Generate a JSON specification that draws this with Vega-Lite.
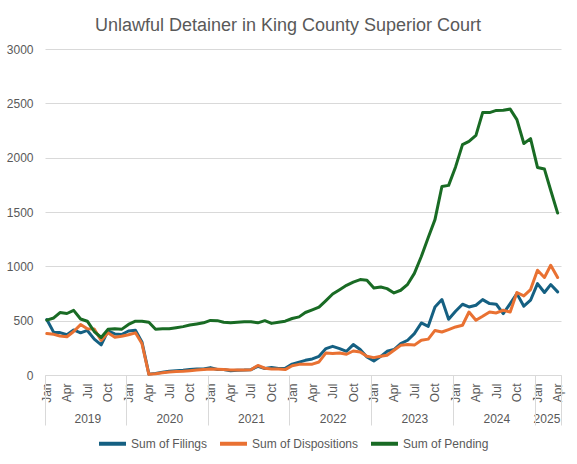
{
  "$schema": "https://vega.github.io/schema/vega-lite/v6.json",
  "description": "Unlawful detainer filings, dispositions and pending cases by month",
  "width": 516,
  "height": 326,
  "autosize": {"type": "none"},
  "padding": {"left": 45, "top": 49, "right": 16, "bottom": 89},
  "background": "white",
  "title": {
    "text": "Unlawful Detainer in King County Superior Court",
    "anchor": "middle",
    "frame": "group",
    "dx": -15,
    "offset": 8,
    "fontSize": 18,
    "fontWeight": "normal",
    "color": "#595959"
  },
  "data": {
    "values": [
      {"month": "2019-01-01", "Filings": 510, "Dispositions": 381, "Pending": 505},
      {"month": "2019-02-01", "Filings": 392, "Dispositions": 374, "Pending": 525},
      {"month": "2019-03-01", "Filings": 390, "Dispositions": 359, "Pending": 575},
      {"month": "2019-04-01", "Filings": 370, "Dispositions": 352, "Pending": 566},
      {"month": "2019-05-01", "Filings": 415, "Dispositions": 400, "Pending": 595},
      {"month": "2019-06-01", "Filings": 388, "Dispositions": 464, "Pending": 515},
      {"month": "2019-07-01", "Filings": 410, "Dispositions": 425, "Pending": 495},
      {"month": "2019-08-01", "Filings": 330, "Dispositions": 424, "Pending": 400},
      {"month": "2019-09-01", "Filings": 278, "Dispositions": 318, "Pending": 345},
      {"month": "2019-10-01", "Filings": 405, "Dispositions": 389, "Pending": 420},
      {"month": "2019-11-01", "Filings": 378, "Dispositions": 348, "Pending": 425},
      {"month": "2019-12-01", "Filings": 372, "Dispositions": 357, "Pending": 420},
      {"month": "2020-01-01", "Filings": 405, "Dispositions": 370, "Pending": 465},
      {"month": "2020-02-01", "Filings": 412, "Dispositions": 388, "Pending": 495},
      {"month": "2020-03-01", "Filings": 305, "Dispositions": 290, "Pending": 495},
      {"month": "2020-04-01", "Filings": 8, "Dispositions": 6, "Pending": 485},
      {"month": "2020-05-01", "Filings": 15, "Dispositions": 12, "Pending": 421},
      {"month": "2020-06-01", "Filings": 25, "Dispositions": 20, "Pending": 425},
      {"month": "2020-07-01", "Filings": 35, "Dispositions": 28, "Pending": 425},
      {"month": "2020-08-01", "Filings": 40, "Dispositions": 32, "Pending": 435},
      {"month": "2020-09-01", "Filings": 43, "Dispositions": 35, "Pending": 445},
      {"month": "2020-10-01", "Filings": 50, "Dispositions": 40, "Pending": 460},
      {"month": "2020-11-01", "Filings": 55, "Dispositions": 45, "Pending": 470},
      {"month": "2020-12-01", "Filings": 55, "Dispositions": 50, "Pending": 480},
      {"month": "2021-01-01", "Filings": 68, "Dispositions": 55, "Pending": 502},
      {"month": "2021-02-01", "Filings": 50, "Dispositions": 52, "Pending": 500},
      {"month": "2021-03-01", "Filings": 50, "Dispositions": 50, "Pending": 485},
      {"month": "2021-04-01", "Filings": 40, "Dispositions": 45, "Pending": 480},
      {"month": "2021-05-01", "Filings": 43, "Dispositions": 45, "Pending": 485},
      {"month": "2021-06-01", "Filings": 45, "Dispositions": 47, "Pending": 490},
      {"month": "2021-07-01", "Filings": 49, "Dispositions": 49, "Pending": 490},
      {"month": "2021-08-01", "Filings": 80, "Dispositions": 88, "Pending": 480},
      {"month": "2021-09-01", "Filings": 60, "Dispositions": 62, "Pending": 500},
      {"month": "2021-10-01", "Filings": 68, "Dispositions": 55, "Pending": 475},
      {"month": "2021-11-01", "Filings": 60, "Dispositions": 55, "Pending": 485},
      {"month": "2021-12-01", "Filings": 62, "Dispositions": 50, "Pending": 495},
      {"month": "2022-01-01", "Filings": 100, "Dispositions": 85, "Pending": 520},
      {"month": "2022-02-01", "Filings": 118, "Dispositions": 98, "Pending": 535},
      {"month": "2022-03-01", "Filings": 135, "Dispositions": 100, "Pending": 575},
      {"month": "2022-04-01", "Filings": 148, "Dispositions": 100, "Pending": 600},
      {"month": "2022-05-01", "Filings": 172, "Dispositions": 120, "Pending": 625},
      {"month": "2022-06-01", "Filings": 243, "Dispositions": 203, "Pending": 685},
      {"month": "2022-07-01", "Filings": 264, "Dispositions": 197, "Pending": 745},
      {"month": "2022-08-01", "Filings": 243, "Dispositions": 203, "Pending": 785},
      {"month": "2022-09-01", "Filings": 218, "Dispositions": 191, "Pending": 825},
      {"month": "2022-10-01", "Filings": 280, "Dispositions": 221, "Pending": 855},
      {"month": "2022-11-01", "Filings": 234, "Dispositions": 212, "Pending": 878},
      {"month": "2022-12-01", "Filings": 166, "Dispositions": 172, "Pending": 872},
      {"month": "2023-01-01", "Filings": 129, "Dispositions": 160, "Pending": 800},
      {"month": "2023-02-01", "Filings": 172, "Dispositions": 172, "Pending": 810},
      {"month": "2023-03-01", "Filings": 218, "Dispositions": 181, "Pending": 795},
      {"month": "2023-04-01", "Filings": 234, "Dispositions": 227, "Pending": 755},
      {"month": "2023-05-01", "Filings": 289, "Dispositions": 273, "Pending": 780},
      {"month": "2023-06-01", "Filings": 320, "Dispositions": 280, "Pending": 835},
      {"month": "2023-07-01", "Filings": 381, "Dispositions": 275, "Pending": 935},
      {"month": "2023-08-01", "Filings": 479, "Dispositions": 320, "Pending": 1090},
      {"month": "2023-09-01", "Filings": 448, "Dispositions": 330, "Pending": 1265},
      {"month": "2023-10-01", "Filings": 626, "Dispositions": 410, "Pending": 1430},
      {"month": "2023-11-01", "Filings": 694, "Dispositions": 396, "Pending": 1735},
      {"month": "2023-12-01", "Filings": 513, "Dispositions": 418, "Pending": 1745},
      {"month": "2024-01-01", "Filings": 587, "Dispositions": 442, "Pending": 1915},
      {"month": "2024-02-01", "Filings": 651, "Dispositions": 458, "Pending": 2120},
      {"month": "2024-03-01", "Filings": 626, "Dispositions": 580, "Pending": 2150},
      {"month": "2024-04-01", "Filings": 642, "Dispositions": 504, "Pending": 2205},
      {"month": "2024-05-01", "Filings": 694, "Dispositions": 540, "Pending": 2415},
      {"month": "2024-06-01", "Filings": 657, "Dispositions": 580, "Pending": 2415},
      {"month": "2024-07-01", "Filings": 651, "Dispositions": 571, "Pending": 2435},
      {"month": "2024-08-01", "Filings": 565, "Dispositions": 596, "Pending": 2437},
      {"month": "2024-09-01", "Filings": 657, "Dispositions": 580, "Pending": 2447},
      {"month": "2024-10-01", "Filings": 749, "Dispositions": 759, "Pending": 2350},
      {"month": "2024-11-01", "Filings": 633, "Dispositions": 728, "Pending": 2130},
      {"month": "2024-12-01", "Filings": 688, "Dispositions": 786, "Pending": 2175},
      {"month": "2025-01-01", "Filings": 841, "Dispositions": 964, "Pending": 1910},
      {"month": "2025-02-01", "Filings": 759, "Dispositions": 897, "Pending": 1895},
      {"month": "2025-03-01", "Filings": 832, "Dispositions": 1010, "Pending": 1700},
      {"month": "2025-04-01", "Filings": 765, "Dispositions": 897, "Pending": 1490}
    ]
  },
  "transform": [
    {"fold": ["Filings", "Dispositions", "Pending"], "as": ["series", "count"]}
  ],
  "layer": [
    {
      "mark": {"type": "line", "strokeWidth": 3, "strokeJoin": "round", "strokeCap": "round"},
      "encoding": {
        "x": {
          "field": "month",
          "type": "temporal",
          "scale": {
            "type": "utc",
            "domain": [
              {"year": 2018, "month": 12, "date": 24, "utc": true},
              {"year": 2025, "month": 4, "date": 16, "utc": true}
            ]
          },
          "axis": {
            "orient": "bottom",
            "title": null,
            "tickCount": {"interval": "month", "step": 3},
            "labelExpr": "utcFormat(datum.value, '%b')",
            "labelAngle": 270,
            "labelPadding": 8,
            "ticks": false,
            "domain": true,
            "domainColor": "#d9d9d9",
            "labelOverlap": false,
            "labelFlush": false,
            "grid": false
          }
        },
        "y": {
          "field": "count",
          "type": "quantitative",
          "scale": {"domain": [0, 3000]},
          "axis": {
            "title": null,
            "values": [0, 500, 1000, 1500, 2000, 2500, 3000],
            "format": "d",
            "grid": true,
            "gridColor": "#d9d9d9",
            "domain": false,
            "ticks": false,
            "labelPadding": 12
          }
        },
        "color": {
          "field": "series",
          "type": "nominal",
          "sort": ["Filings", "Dispositions", "Pending"],
          "scale": {
            "domain": ["Filings", "Dispositions", "Pending"],
            "range": ["#156082", "#E97132", "#196B24"]
          },
          "legend": {
            "title": null,
            "orient": "none",
            "legendX": 52,
            "legendY": 379,
            "direction": "horizontal",
            "symbolType": "stroke",
            "symbolSize": 729,
            "symbolStrokeWidth": 4,
            "labelOffset": 3,
            "columnPadding": 4,
            "padding": 0,
            "labelExpr": "'Sum of ' + datum.label"
          }
        }
      }
    },
    {
      "mark": {"type": "rule", "opacity": 0},
      "encoding": {
        "x": {
          "field": "month",
          "type": "temporal",
          "axis": {
            "orient": "bottom",
            "title": null,
            "values": [
              {"year": 2019, "month": 7, "date": 1, "utc": true},
              {"year": 2020, "month": 7, "date": 1, "utc": true},
              {"year": 2021, "month": 7, "date": 1, "utc": true},
              {"year": 2022, "month": 7, "date": 1, "utc": true},
              {"year": 2023, "month": 7, "date": 1, "utc": true},
              {"year": 2024, "month": 7, "date": 1, "utc": true},
              {"year": 2025, "month": 2, "date": 10, "utc": true}
            ],
            "labelExpr": "utcFormat(datum.value, '%Y')",
            "labelAngle": 0,
            "labelPadding": 38,
            "ticks": false,
            "domain": false,
            "grid": false,
            "labelOverlap": false,
            "labelFlush": false
          }
        }
      }
    },
    {
      "mark": {"type": "rule", "opacity": 0},
      "encoding": {
        "x": {
          "field": "month",
          "type": "temporal",
          "axis": {
            "orient": "bottom",
            "title": null,
            "values": [
              {"year": 2018, "month": 12, "date": 24, "utc": true},
              {"year": 2019, "month": 12, "date": 19, "utc": true},
              {"year": 2020, "month": 12, "date": 19, "utc": true},
              {"year": 2021, "month": 12, "date": 19, "utc": true},
              {"year": 2022, "month": 12, "date": 19, "utc": true},
              {"year": 2023, "month": 12, "date": 19, "utc": true},
              {"year": 2024, "month": 12, "date": 19, "utc": true},
              {"year": 2025, "month": 4, "date": 16, "utc": true}
            ],
            "labels": false,
            "domain": false,
            "grid": false,
            "ticks": true,
            "tickSize": 50,
            "tickColor": "#d9d9d9",
            "tickWidth": 1
          }
        }
      }
    }
  ],
  "resolve": {"axis": {"x": "independent"}},
  "config": {
    "font": "Liberation Sans",
    "view": {"stroke": null},
    "axis": {"labelFontSize": 12, "labelColor": "#595959"},
    "legend": {"labelFontSize": 12, "labelColor": "#595959"}
  }
}
